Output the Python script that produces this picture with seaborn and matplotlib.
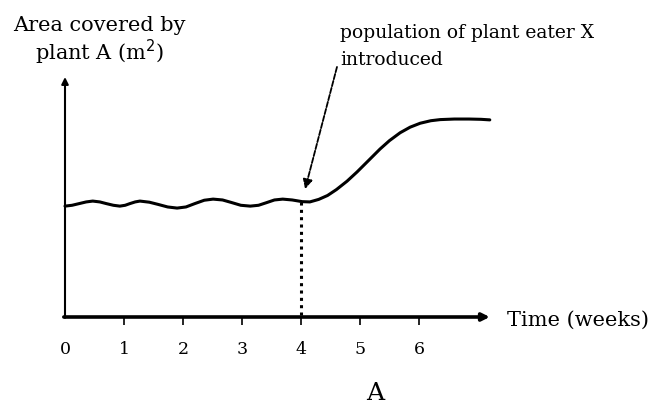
import matplotlib
matplotlib.use("Agg")
import matplotlib.pyplot as plt
import seaborn as sns
import pandas as pd

# Area covered by plant A over time (weeks); plant eater X introduced at week 4
weeks = [0, 0.12, 0.24, 0.36, 0.47, 0.59, 0.70, 0.82, 0.93, 1.02, 1.10, 1.19, 1.27,
         1.43, 1.58, 1.74, 1.90, 2.05, 2.20, 2.36, 2.51, 2.67, 2.82, 2.98, 3.14,
         3.28, 3.41, 3.55, 3.69, 3.85, 4.02, 4.15, 4.30, 4.45, 4.60, 4.78, 4.95,
         5.15, 5.34, 5.50, 5.68, 5.85, 6.02, 6.20, 6.36, 6.60, 6.85, 7.05, 7.20]
area = [3.96, 3.99, 4.05, 4.11, 4.14, 4.11, 4.05, 3.99, 3.96, 3.99, 4.05, 4.11, 4.14,
        4.10, 4.02, 3.93, 3.89, 3.93, 4.05, 4.17, 4.21, 4.18, 4.09, 3.99, 3.96,
        3.99, 4.08, 4.18, 4.21, 4.18, 4.12, 4.11, 4.20, 4.34, 4.55, 4.85, 5.18,
        5.60, 6.00, 6.30, 6.58, 6.78, 6.92, 7.01, 7.05, 7.07, 7.07, 7.06, 7.04]

tick_weeks = [0, 1, 2, 3, 4, 5, 6]
tick_labels = ["0", "1", "2", "3", "4", "5", "6"]
intro_week = 4
intro_area = 4.12
x_axis_end = 7.2
y_axis_end = 8.57

sns.set_style("white")
plt.rcParams["font.family"] = ["DejaVu Serif"]

fig = plt.figure(figsize=(6.53, 4.06), dpi=100)
ax = fig.add_axes([0, 0, 1, 1])
ax.set_xlim(-65 / 59, (653 - 65) / 59)
ax.set_ylim(-(406 - 318) / 28, 318 / 28)
ax.axis("off")

df = pd.DataFrame({"week": weeks, "area": area})
sns.lineplot(data=df, x="week", y="area", ax=ax, color="black", lw=2.2,
             estimator=None, sort=False)

# hand-drawn style axes with arrow heads
ax.annotate("", xy=(x_axis_end, 0), xytext=(-0.02, 0),
            arrowprops=dict(arrowstyle="-|>", lw=2.6, color="black",
                            mutation_scale=11, shrinkA=0, shrinkB=0))
ax.annotate("", xy=(0, y_axis_end), xytext=(0, -0.03),
            arrowprops=dict(arrowstyle="-|>", lw=1.5, color="black",
                            mutation_scale=10, shrinkA=0, shrinkB=0))

# tick marks and labels
ax.vlines(tick_weeks[1:], -0.3, 0, color="black", lw=1.2)
for w, lab in zip(tick_weeks, tick_labels):
    ax.text(w, -1.14, lab, ha="center", va="center", fontsize=12.5, color="black")

# dotted drop line at the introduction point
ax.plot([intro_week, intro_week], [intro_area, 0], color="black", lw=2.2,
        linestyle=(0, (1, 1.4)))

# annotation
ax.annotate("", xy=(4.07, 4.57), xytext=(4.61, 8.93),
            arrowprops=dict(arrowstyle="-|>", lw=1.3, color="black",
                            linestyle=(0, (3, 1)), mutation_scale=14,
                            shrinkA=0, shrinkB=0))
ax.text(4.66, 10.18, "population of plant eater X", ha="left", va="center",
        fontsize=13.5, color="black")
ax.text(4.66, 9.21, "introduced", ha="left", va="center", fontsize=13.5,
        color="black")

ax.text(0.59, 10.46, "Area covered by", ha="center", va="center", fontsize=15,
        color="black")
ax.text(0.59, 9.50, "plant A (m$^2$)", ha="center", va="center", fontsize=15,
        color="black")

ax.text(7.49, -0.07, "Time (weeks)", ha="left", va="center", fontsize=15,
        color="black")
ax.text(5.25, -2.68, "A", ha="center", va="center", fontsize=18, color="black")

fig.savefig("out.png", dpi=100)
